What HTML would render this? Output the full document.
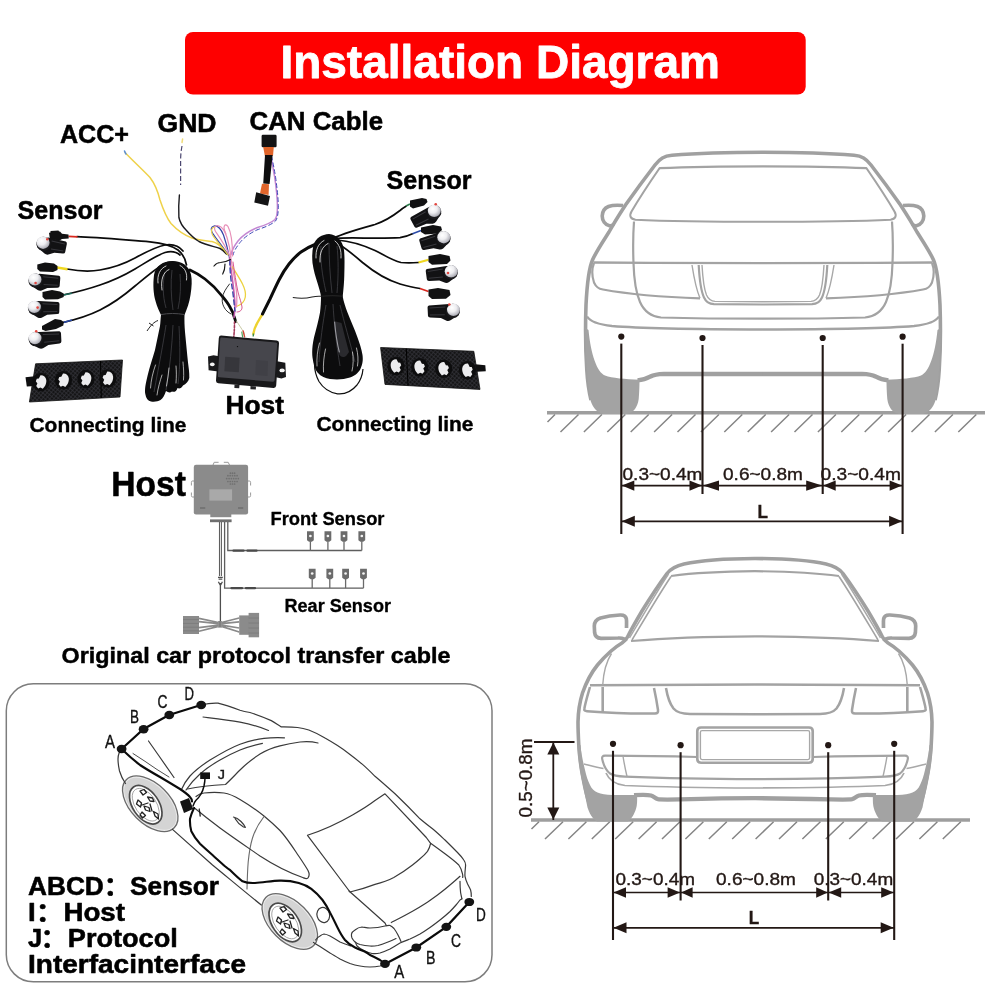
<!DOCTYPE html>
<html lang="en">
<head>
<meta charset="utf-8">
<title>Installation Diagram</title>
<style>
html,body{margin:0;padding:0;background:#fff;}
body{width:1000px;height:1000px;overflow:hidden;position:relative;}
svg{position:absolute;left:0;top:0;display:block;will-change:transform;}
text{font-family:"Liberation Sans","Noto Sans CJK SC",sans-serif;}
.b{font-weight:bold;fill:#000;stroke:#000;stroke-width:0.55px;stroke-linejoin:round;}
.dim{fill:#231815;font-size:16.5px;stroke:#231815;stroke-width:0.35px;}
.car{fill:none;stroke:#a0a0a0;stroke-width:3.6;stroke-linecap:butt;stroke-linejoin:round;}
.car2{fill:none;stroke:#a3a3a3;stroke-width:2.2;stroke-linecap:butt;stroke-linejoin:round;}
.car3{fill:none;stroke:#a8a8a8;stroke-width:1.4;stroke-linecap:butt;stroke-linejoin:round;}
.k{fill:none;stroke:#231815;stroke-width:1.5;}
.kf{fill:#231815;stroke:none;}
.h{fill:none;stroke:#858585;stroke-width:1.5;}
.w{fill:none;stroke:#0b0b0b;stroke-width:1.6;stroke-linecap:round;}
.ln{fill:none;stroke:#3a3a3a;stroke-width:1.2;stroke-linecap:round;stroke-linejoin:round;}
.lb{font-size:15px;fill:#111;}
</style>
</head>
<body>
<svg width="1000" height="1000" viewBox="0 0 1000 1000">
<rect x="0" y="0" width="1000" height="1000" fill="#ffffff"/>

<g id="header">
<rect x="185" y="32" width="620.7" height="62.6" rx="8" ry="8" fill="#fe0000"/>
<text class="b" x="280.4" y="78.2" font-size="46.6" style="fill:#fff;stroke:#fff;stroke-width:0.8px" textLength="439.6" lengthAdjust="spacingAndGlyphs">Installation Diagram</text>
</g>
<g id="photo">
<!-- left sensor wires -->
<g class="w" style="stroke-width:1.7">
<path d="M77,236.7 C95,237.2 120,239.5 150,241.8 C163,243 172,245.5 178,250 C183,254 185.5,259 186.5,265"/>
<path d="M67,269 C80,271.5 92,271.5 100,270 C112,268 124,264 135,258 C145,252.5 155,247 165,245 C173,243.8 179,246 183,251"/>
<path d="M63,295 C77,292 90,288.5 100,285 C112,281 124,275.5 135,269 C146,262.5 156,255.5 165,252.5 C171,250.8 176,251.5 180,255"/>
<path d="M63,322.5 C76,319.5 90,315 100,310 C112,304 124,295.5 135,286 C146,277 156,268.5 163,264.5 C168,262 172,261.5 176,263"/>
</g>
<!-- left coil -->
<path d="M172.5,261 C163,261 155.5,266 154,275 C152.8,285 153.5,294 155.5,301 C157,307 159.5,311.5 161,315 C160.5,319 160.5,322 160,326 C158.5,334 156.5,342 155,350 C152.5,359 149.5,367 147.5,376 C145.5,384 144.5,390 145.3,394 C146,398.5 148,401 151,401.5 C154.5,402 158,401.5 160.5,400 C163,398.5 164.5,395 166,391 C168,392.5 170,393 172,391.5 C174,392.5 176.5,391.5 177.5,388 C179.5,389 181.5,388 183,385.5 C186,384 188.5,381.5 189.3,378 C189.5,372 188.5,367 188,362.5 C187,353 186,342 185,332 C184.5,326 184.3,320 184.5,315 C187,309 189.5,302 190.5,295 C191.8,287 192.2,280 191,274.5 C189,266 182,261 172.5,261 Z" fill="#0c0c0d"/>
<path d="M165,272 C162.5,282 162.5,296 166,308 M172,270 C170.5,282 171,297 173,310 M180,274 C181,285 180.5,298 178,309 M166,325 C163,345 159,365 154,392 M173,325 C172,345 170,368 166,390 M179,326 C180,345 180.5,365 178,384" fill="none" stroke="#3a3a3e" stroke-width="0.9"/>

<path d="M158,283 C157,275 160,268.5 166,266 M162,290 C160.5,280 163,272 169,269.5 M186.5,280 C187.5,273 185,268 180,265.5" fill="none" stroke="#f4f4f4" stroke-width="0.8" stroke-linecap="round"/>
<path d="M150.5,388 C151,380 153,372 155.5,365 M157,395 C158,388 160,381 162,375 M166.5,386 C167.5,380 168.5,374 169,368 M176,383 C176.5,377 176.5,371 176,366 M183.5,380 C184,374 183.5,368 183,362" fill="none" stroke="#e9e9e9" stroke-width="0.7" stroke-linecap="round"/>
<path d="M161,314.6 C168,313.1 177,313.1 184.5,314.6" fill="none" stroke="#4a4a4e" stroke-width="1"/>
<path d="M147,331 C151,325 154,322 158,320.5 M149,323 L153.5,326" fill="none" stroke="#222" stroke-width="1"/>
<!-- cable coil -> host -->
<path d="M190,270 C195.5,272.5 200.5,275.5 205,279 C211.5,284 217,289.5 222,296 C225.5,300 228.5,304 230.5,308 C232.3,311 233.5,314 234,316.5 C234.8,318.5 235.3,320 235.6,321.6" fill="none" stroke="#0b0b0b" stroke-width="2.8" stroke-linecap="round"/>
<!-- ACC yellow wire -->
<path d="M125,152.5 C133,161 142,169 150,177.5 C155,184 158,192 160,200 C163,209 166,217 171,223.5 C177,230 184,235 192,238 C199,240.3 206,240.8 212,241.5 C218,243 222,247 225.5,252.5" fill="none" stroke="#efd24a" stroke-width="1.5" stroke-linecap="round"/>
<path d="M124.5,151 l1.4,3" stroke="#5b8fd8" stroke-width="1.6" stroke-linecap="round" fill="none"/>
<!-- GND wire -->
<path d="M182.6,139 l-0.6,3.5" stroke="#f0dc7a" stroke-width="1.5" stroke-linecap="round" fill="none"/>
<path d="M182,146 C181,151 180.6,156 180.6,161 L180.6,185" fill="none" stroke="#4b4770" stroke-width="1.2" stroke-dasharray="5 2.5"/>
<path d="M179.4,195 C178.7,202 178.5,210 178.9,217.5 C180,223 183,227 186.5,230.5 C190,234.5 194,238.5 199,241.5 C206,245 214,246.5 220,248.5 C223,250 225,252 226.5,254" fill="none" stroke="#1b1b1f" stroke-width="1.4" stroke-linecap="round"/>
<!-- CAN cable -->
<path d="M270.5,155 C272,161 273,168 274.5,176 C276,186 277.3,196 277.4,206 C277.5,212 277,217 275,219.5 C271,223 264,225.5 257.5,227.5 C250,230.5 243,235 238,241 C234.5,245.5 232,250 231,254.5" fill="none" stroke="#c487d2" stroke-width="1.5" stroke-linecap="round"/>
<path d="M271.5,156 C273,163 274.5,170 275.7,178 C277,188 278.3,198 278.3,207 C278.3,213 277.5,218.5 275.5,221 C271,225 264,227.5 258,229.5 C251,232.5 244.5,237 240,242.5 C236.5,247 234,251 233,255" fill="none" stroke="#3e48b8" stroke-width="1" stroke-linecap="round" stroke-dasharray="4 3"/>
<rect x="261.6" y="134.7" width="15" height="12.5" rx="1.3" fill="#131314"/>
<path d="M263.2,147 L273.8,147 L273,155.8 L264.8,155.8 Z" fill="#e0642a"/>
<path d="M265,155 L272.6,155 L269.6,184 L263.2,183.5 Z" fill="#0e0e0f"/>
<path d="M262,183.7 L269,184.2 L268.6,195 L260,193.5 Z" fill="#e2662c"/>
<path d="M256.2,192.3 L270,196 L268,205.8 L254.3,202.5 Z" fill="#141415"/>
<!-- colored loops -->
<g fill="none" stroke-linecap="round" stroke-width="1.2">
<path d="M229,256 C224,248 217,240 212.5,233 C210.5,229.5 211,226.5 214,226 C218,225.5 221,229 223.5,235 C226,242 228,250 229.5,258" stroke="#3343a8"/>
<path d="M230,257 C227,248 220,238 215.5,231.5 C213.5,228 215,225 218.5,225.8 C222,226.5 225,231 227,237.5 C229,244 230.5,251 231,258" stroke="#e78fb8"/>
<path d="M228,255 C223,247.5 216,241 212.5,235 C210.5,231 211.5,227.5 214.5,227" stroke="#e8d048"/>
<path d="M226,234 C222,226.5 225,222.5 228,226.5 C231,232 232.5,244 232.5,256" stroke="#e78fb8"/>
<path d="M229.5,258 C230.5,266 231.5,273 232.5,280 C233.5,288 234.7,297 235,305 C235,310 234.5,314 234,317.5" stroke="#c45fb0" stroke-width="1.6"/>
<path d="M231,259 C232.5,268 234,276 235.5,284 C236.8,292 237.2,300 236.5,307" stroke="#e78fb8" stroke-width="1.3"/>
<path d="M230,260 C229.5,270 231,281 232.5,290 C233.5,297 234,304 235,311" stroke="#3141a6" stroke-width="1.3" stroke-dasharray="5 3"/>
<path d="M232.5,267 C236,273 240,279 242.5,284 C245,289 246,293 245.3,297 C244.5,301.5 241.5,304.5 237.5,306" stroke="#ecd23e" stroke-width="1.3"/>
<path d="M233,262 C234.5,272 236,283 238,292 C239.5,298 241.5,303 242,307 C242.3,310 240,312 237,312" stroke="#d65a90" stroke-width="1"/>
<path d="M214,266 C216,263.5 218,262.5 220.5,262.5 C224,262.3 227.5,261.2 230.5,259.5 M222.7,274 C224.5,271 225,267.5 225,264" stroke="#1a1a1a" stroke-width="1.2"/>
<path d="M229.5,284 C226,288.5 223,293 222.3,298 C221.8,302.5 223,306 225.5,309.5 C227,311.5 229,313 231,314" stroke="#1a1a1a" stroke-width="0.9"/>
<path d="M234.5,322 C234.5,327 234.3,332 233.8,336.5" stroke="#a33a5a" stroke-width="1.6" stroke-dasharray="2 1.5"/>
<path d="M236.5,321 C239,325 242,329 243.7,332.5 C244.3,334 244.5,335.5 244.4,336.5" stroke="#c9c9a5" stroke-width="1"/>
<path d="M243.2,331 L244.6,336.8" stroke="#cf4a3a" stroke-width="1.4"/>
<path d="M241.8,332 L242.6,336.8" stroke="#4aa35a" stroke-width="1.2"/>
</g>
<!-- right cable host -> coil -->
<path d="M253.3,334 C254,329 255.5,326 257.5,322.5 L262.3,314.3" fill="none" stroke="#edd22e" stroke-width="2.4" stroke-linecap="round"/>
<path d="M253.2,336.5 l0.3,-3" stroke="#3a8a4a" stroke-width="1.4" fill="none"/>
<path d="M262.5,314 C265,309 267.5,304 270,299 C273,292.5 276,286 279,280 C282,274 285.5,268.5 289,264 C293,259 297,255 301,252 C306,248.5 311,246 316,244 C320,242.5 324,241 328,240" fill="none" stroke="#0b0b0b" stroke-width="3" stroke-linecap="round"/>
<!-- right coil -->
<path d="M329,234 C322,234.5 315.5,238 313.5,245 C312,251 312,257 312.5,263 C313.5,270 315.5,277 317.5,283 C319,288 320.5,292.5 321,296.5 C321,302 320.7,307 320,312.5 C318.5,321 316,329.5 314,337.5 C312.3,345 311.8,352 312.5,357.5 C313.5,364.5 315,369.5 317.5,372.5 C321,376.5 325.5,378.5 330,379 C337,380 344,379.5 350,377.5 C355.5,375.5 359.5,372 361,367.5 C363,362.5 363,358.5 362.5,355 C361.5,349 359.5,343 357.5,337.5 C354.5,329 350.5,320 347.5,312.5 C345.5,307 343.5,301.5 342.7,296.5 C343.5,289 344.2,282 344.3,275 C344.5,266 344.8,257 344,250 C342.5,240.5 337,234.5 329,234 Z" fill="#0c0c0d"/>
<path d="M321,246 C320,258 322,275 326,292 M329,243 C329,258 330,276 332,293 M337,246 C338.5,258 338.5,276 337,293 M326,305 C323,322 320,342 319,362 M333,304 C334,322 336,342 340,366 M340,305 C344,322 350,342 355,362" fill="none" stroke="#3a3a3e" stroke-width="0.9"/>
<path d="M334,321 C335,332 336.5,344 339,354 C340.5,357.5 344,358 346.5,355.5 L349,352 C346.5,343 344,333 341.5,323 Z" fill="#2a2a2e"/>
<path d="M334.6,322 C335.5,332 337,343 339.3,352" fill="none" stroke="#9a9aa0" stroke-width="1.1" stroke-linecap="round"/>
<path d="M316,258 C315.5,250 318,243.5 324,240.5 M320,262 C319.5,253 322,246.5 328,243.5 M341,258 C341.5,250 339.5,244.5 335,241" fill="none" stroke="#f4f4f4" stroke-width="0.8" stroke-linecap="round"/>
<path d="M317,366 C316.5,358 317.5,350 319.5,343 M323.5,372 C323,364 324,356 325.5,349 M352,371 C353.5,365 353.5,358 352.5,352 M357.5,366 C358.5,360 358,354 356.5,348" fill="none" stroke="#e9e9e9" stroke-width="0.7" stroke-linecap="round"/>
<path d="M314.5,364 C314.5,370 316,376 319,381.5 C323,388 329.5,392.5 337.5,393.8 C345,394.5 352,391 357,385 C360.5,380.5 362.5,375 363,369" fill="none" stroke="#0e0e0e" stroke-width="1.2"/>
<path d="M292.8,297.5 C299,298.5 306,298.5 312,297 C315,296.3 318,296 321,296.3 C328,295.5 336,295.3 343,296.3" fill="none" stroke="#222" stroke-width="1.1"/>
<!-- right sensor wires -->
<g class="w" style="stroke-width:1.7">
<path d="M330,240 C340,234 355,230 375,224.5 C385,221 393,216 400,210.5 C402,208.8 404,207.5 406,206.3"/>
<path d="M333,238.5 C350,237 375,239 400,237.7 C405,237 409,235.5 412.5,233.8"/>
<path d="M337,240 C350,241 363,245 375,250.5 C384,255 392,260.5 401,262.5 C407,263.3 413,263 418.5,262.5"/>
<path d="M340,245 C348,250 355,256 362.5,262.5 C374,272 387,280 400,284 C407,286 413,287.5 420,288.5"/>
</g>
<path d="M406,206 L410,204" stroke="#2a7a4a" stroke-width="1.6" fill="none"/>
<path d="M412.5,233.7 L421,230.5" stroke="#2a4aa8" stroke-width="1.6" fill="none"/>
<path d="M418.5,262.5 L428.5,259.8" stroke="#f0d820" stroke-width="2.2" fill="none"/>
<path d="M420,288.5 L428.5,291.5" stroke="#d8281e" stroke-width="1.8" fill="none"/>
<!-- left sensors: connector color tags -->
<path d="M68.5,236.4 L77.5,236.8" stroke="#d8281e" stroke-width="1.8" fill="none"/>
<path d="M57,267.5 L67.5,269.2" stroke="#f0d820" stroke-width="2.4" fill="none"/>
<path d="M63.5,295 L72,293.3" stroke="#1f6a5a" stroke-width="1.6" fill="none"/>
<path d="M63.5,322.5 L72,320" stroke="#2a4aa8" stroke-width="1.6" fill="none"/>
<!-- connectors -->
<g fill="#111112">
<path d="M49,233 L53,231 L60,231.5 L62,233.8 L68.5,234.5 L68.7,238.5 L62,239 L60,240.2 L50,239.5 Z M50.5,231 L58.5,230.5 L59.5,232.5 L50.5,232.8 Z"/>
<path d="M37.3,264.5 L45,262.5 L54,263.5 L57.5,266 L57.5,270 L53,272 L40,271.5 L37.3,269 Z"/>
<path d="M42.5,292 L52,290 L60,291.5 L63.7,293.5 L63.7,297 L58,299.3 L45,299.5 L42.5,297 Z"/>
<path d="M42,326 L55,319 L61,320 L63.8,322 L63.3,325.5 L56,329 L45.5,331 L42,329.5 Z"/>
<path d="M410,200.5 L422,198 L426.5,199 L427.5,202 L424,205.5 L413,208.5 L410,206.5 Z"/>
<path d="M421,227.5 L433,225 L441,226.5 L442,230 L438,233.5 L425,234.5 L421,232 Z"/>
<path d="M428.5,256 L440,254 L449.5,256 L450.5,260.5 L447,264 L432,264.8 L428.5,262 Z"/>
<path d="M428.5,289.5 L438,288 L449.5,290 L450.5,295 L446,298.8 L432,299 L428.5,296 Z"/>
</g>
<!-- SENSORS_BEGIN -->
<radialGradient id="sv" cx="0.38" cy="0.34" r="0.75"><stop offset="0" stop-color="#ffffff"/><stop offset="0.45" stop-color="#eeeef1"/><stop offset="0.8" stop-color="#b9b9c1"/><stop offset="1" stop-color="#85858d"/></radialGradient>
<g transform="translate(43.1,242.7) rotate(11.5)"><path d="M-3,-3 L4,-6 L22.0,-5.6 Q23.5,-5.2 23.5,-3.5 L23.5,4.6 Q23.5,6.4 21.5,6.6 L13,7.6 L7.5,10.6 Q5.5,11.4 3.5,10.4 L-5,5.5 Z" fill="#121214"/><path d="M8,-3.3 L21.5,-3 M9,4.5 L21.5,4" stroke="#37373c" stroke-width="1" fill="none"/><circle cx="0.6" cy="1.1" r="7.1" fill="#1a1a1d"/></g><ellipse cx="43.1" cy="242.7" rx="6.5" ry="6.2" fill="url(#sv)"/><circle cx="47.3" cy="239.3" r="1.3" fill="#e2463f"/>
<g transform="translate(35.0,279.4) rotate(4.6)"><path d="M-3,-3 L4,-6 L23.6,-5.6 Q25.1,-5.2 25.1,-3.5 L25.1,4.6 Q25.1,6.4 23.1,6.6 L13,7.6 L7.5,10.6 Q5.5,11.4 3.5,10.4 L-5,5.5 Z" fill="#121214"/><path d="M8,-3.3 L23.1,-3 M9,4.5 L23.1,4" stroke="#37373c" stroke-width="1" fill="none"/><circle cx="0.6" cy="1.1" r="7.1" fill="#1a1a1d"/></g><ellipse cx="35.0" cy="279.4" rx="6.5" ry="6.2" fill="url(#sv)"/><circle cx="35.6" cy="283.0" r="1.3" fill="#e2463f"/>
<g transform="translate(34.4,306.9) rotate(1.5)"><path d="M-3,-3 L4,-6 L23.5,-5.6 Q25.0,-5.2 25.0,-3.5 L25.0,4.6 Q25.0,6.4 23.0,6.6 L13,7.6 L7.5,10.6 Q5.5,11.4 3.5,10.4 L-5,5.5 Z" fill="#121214"/><path d="M8,-3.3 L23.0,-3 M9,4.5 L23.0,4" stroke="#37373c" stroke-width="1" fill="none"/><circle cx="0.6" cy="1.1" r="7.1" fill="#1a1a1d"/></g><ellipse cx="34.4" cy="306.9" rx="6.5" ry="6.2" fill="url(#sv)"/><circle cx="37.6" cy="307.6" r="1.3" fill="#e2463f"/>
<g transform="translate(35.0,338.1) rotate(-2.9)"><path d="M-3,-3 L4,-6 L24.7,-5.6 Q26.2,-5.2 26.2,-3.5 L26.2,4.6 Q26.2,6.4 24.2,6.6 L13,7.6 L7.5,10.6 Q5.5,11.4 3.5,10.4 L-5,5.5 Z" fill="#121214"/><path d="M8,-3.3 L24.2,-3 M9,4.5 L24.2,4" stroke="#37373c" stroke-width="1" fill="none"/><circle cx="0.6" cy="1.1" r="7.1" fill="#1a1a1d"/></g><ellipse cx="35.0" cy="338.1" rx="6.5" ry="6.2" fill="url(#sv)"/><circle cx="36.2" cy="331.3" r="1.3" fill="#e2463f"/>
<g transform="translate(434.3,210.8) scale(-1,1) rotate(28.4)"><path d="M-3,-3 L4,-6 L23.5,-5.6 Q25.0,-5.2 25.0,-3.5 L25.0,4.6 Q25.0,6.4 23.0,6.6 L13,7.6 L7.5,10.6 Q5.5,11.4 3.5,10.4 L-5,5.5 Z" fill="#121214"/><path d="M8,-3.3 L23.0,-3 M9,4.5 L23.0,4" stroke="#37373c" stroke-width="1" fill="none"/><circle cx="0.6" cy="1.1" r="7.1" fill="#1a1a1d"/></g><ellipse cx="434.3" cy="210.8" rx="6.5" ry="6.2" fill="url(#sv)"/><circle cx="435.7" cy="204.3" r="1.3" fill="#e2463f"/>
<g transform="translate(443.8,237.2) scale(-1,1) rotate(16.6)"><path d="M-3,-3 L4,-6 L23.0,-5.6 Q24.5,-5.2 24.5,-3.5 L24.5,4.6 Q24.5,6.4 22.5,6.6 L13,7.6 L7.5,10.6 Q5.5,11.4 3.5,10.4 L-5,5.5 Z" fill="#121214"/><path d="M8,-3.3 L22.5,-3 M9,4.5 L22.5,4" stroke="#37373c" stroke-width="1" fill="none"/><circle cx="0.6" cy="1.1" r="7.1" fill="#1a1a1d"/></g><ellipse cx="443.8" cy="237.2" rx="6.5" ry="6.2" fill="url(#sv)"/>
<g transform="translate(451.2,271.3) scale(-1,1) rotate(7.6)"><path d="M-3,-3 L4,-6 L23.7,-5.6 Q25.2,-5.2 25.2,-3.5 L25.2,4.6 Q25.2,6.4 23.2,6.6 L13,7.6 L7.5,10.6 Q5.5,11.4 3.5,10.4 L-5,5.5 Z" fill="#121214"/><path d="M8,-3.3 L23.2,-3 M9,4.5 L23.2,4" stroke="#37373c" stroke-width="1" fill="none"/><circle cx="0.6" cy="1.1" r="7.1" fill="#1a1a1d"/></g><ellipse cx="451.2" cy="271.3" rx="6.5" ry="6.2" fill="url(#sv)"/><circle cx="448.0" cy="273.0" r="1.3" fill="#e2463f"/>
<g transform="translate(453.5,309.8) scale(-1,1) rotate(2.9)"><path d="M-3,-3 L4,-6 L24.3,-5.6 Q25.8,-5.2 25.8,-3.5 L25.8,4.6 Q25.8,6.4 23.8,6.6 L13,7.6 L7.5,10.6 Q5.5,11.4 3.5,10.4 L-5,5.5 Z" fill="#121214"/><path d="M8,-3.3 L23.8,-3 M9,4.5 L23.8,4" stroke="#37373c" stroke-width="1" fill="none"/><circle cx="0.6" cy="1.1" r="7.1" fill="#1a1a1d"/></g><ellipse cx="453.5" cy="309.8" rx="6.5" ry="6.2" fill="url(#sv)"/><circle cx="449.3" cy="304.5" r="1.3" fill="#e2463f"/>
<!-- SENSORS_END -->
<!-- brackets -->
<pattern id="cf" width="3" height="3" patternUnits="userSpaceOnUse" patternTransform="rotate(40)"><rect width="3" height="3" fill="#151516"/><path d="M0,0.5 H3 M0.5,0 V3" stroke="#34343a" stroke-width="0.7"/></pattern>
<path d="M35.6,363.8 L122.5,360 L120,397 L29.4,402 Z" fill="url(#cf)" stroke="#111" stroke-width="0.8"/>
<path d="M25.5,377.2 L34.5,376.3 L35,386 L26.8,386.6 Z" fill="#0f0f10"/>
<path d="M100.5,361 L101.3,398" stroke="#000" stroke-width="1" fill="none"/>
<path d="M380.6,347.5 L473.8,351.3 L480,389.4 L385,384.4 Z" fill="url(#cf)" stroke="#111" stroke-width="0.8"/>
<path d="M475.5,364.3 L485.3,365.2 L485.8,371.3 L476.5,371.8 Z" fill="#0f0f10"/>
<path d="M406.3,348.6 L408,385.6" stroke="#000" stroke-width="1" fill="none"/>
<g transform="translate(41.0,382.0)"><ellipse cx="0" cy="0" rx="8.6" ry="9.2" fill="#0d0d0e"/><path d="M-0.5,-6.8 C2.5,-7 4.8,-5 5.3,-2 C5.6,0.5 4.8,2.8 3.6,4.6 L1.8,6.8 L-0.6,5.6 L-2.8,6.6 L-4.8,4 L-3.6,1.4 L-5.2,-0.8 L-4.2,-3.2 L-2.2,-3.4 Z" fill="#ececee"/></g>
<g transform="translate(63.5,380.2)"><ellipse cx="0" cy="0" rx="8.6" ry="9.2" fill="#0d0d0e"/><path d="M-0.5,-6.8 C2.5,-7 4.8,-5 5.3,-2 C5.6,0.5 4.8,2.8 3.6,4.6 L1.8,6.8 L-0.6,5.6 L-2.8,6.6 L-4.8,4 L-3.6,1.4 L-5.2,-0.8 L-4.2,-3.2 L-2.2,-3.4 Z" fill="#ececee"/></g>
<g transform="translate(86.0,379.0)"><ellipse cx="0" cy="0" rx="8.6" ry="9.2" fill="#0d0d0e"/><path d="M-0.5,-6.8 C2.5,-7 4.8,-5 5.3,-2 C5.6,0.5 4.8,2.8 3.6,4.6 L1.8,6.8 L-0.6,5.6 L-2.8,6.6 L-4.8,4 L-3.6,1.4 L-5.2,-0.8 L-4.2,-3.2 L-2.2,-3.4 Z" fill="#ececee"/></g>
<g transform="translate(107.8,378.4)"><ellipse cx="0" cy="0" rx="8.6" ry="9.2" fill="#0d0d0e"/><path d="M-0.5,-6.8 C2.5,-7 4.8,-5 5.3,-2 C5.6,0.5 4.8,2.8 3.6,4.6 L1.8,6.8 L-0.6,5.6 L-2.8,6.6 L-4.8,4 L-3.6,1.4 L-5.2,-0.8 L-4.2,-3.2 L-2.2,-3.4 Z" fill="#ececee"/></g>
<g transform="translate(396.0,366.0) scale(-1,1)"><ellipse cx="0" cy="0" rx="8.6" ry="9.2" fill="#0d0d0e"/><path d="M-0.5,-6.8 C2.5,-7 4.8,-5 5.3,-2 C5.6,0.5 4.8,2.8 3.6,4.6 L1.8,6.8 L-0.6,5.6 L-2.8,6.6 L-4.8,4 L-3.6,1.4 L-5.2,-0.8 L-4.2,-3.2 L-2.2,-3.4 Z" fill="#ececee"/></g>
<g transform="translate(419.7,367.2) scale(-1,1)"><ellipse cx="0" cy="0" rx="8.6" ry="9.2" fill="#0d0d0e"/><path d="M-0.5,-6.8 C2.5,-7 4.8,-5 5.3,-2 C5.6,0.5 4.8,2.8 3.6,4.6 L1.8,6.8 L-0.6,5.6 L-2.8,6.6 L-4.8,4 L-3.6,1.4 L-5.2,-0.8 L-4.2,-3.2 L-2.2,-3.4 Z" fill="#ececee"/></g>
<g transform="translate(443.7,368.7) scale(-1,1)"><ellipse cx="0" cy="0" rx="8.6" ry="9.2" fill="#0d0d0e"/><path d="M-0.5,-6.8 C2.5,-7 4.8,-5 5.3,-2 C5.6,0.5 4.8,2.8 3.6,4.6 L1.8,6.8 L-0.6,5.6 L-2.8,6.6 L-4.8,4 L-3.6,1.4 L-5.2,-0.8 L-4.2,-3.2 L-2.2,-3.4 Z" fill="#ececee"/></g>
<g transform="translate(467.5,370.3) scale(-1,1)"><ellipse cx="0" cy="0" rx="8.6" ry="9.2" fill="#0d0d0e"/><path d="M-0.5,-6.8 C2.5,-7 4.8,-5 5.3,-2 C5.6,0.5 4.8,2.8 3.6,4.6 L1.8,6.8 L-0.6,5.6 L-2.8,6.6 L-4.8,4 L-3.6,1.4 L-5.2,-0.8 L-4.2,-3.2 L-2.2,-3.4 Z" fill="#ececee"/></g>
<!-- host -->
<path d="M208,356.5 L213.5,355.2 L219,356.3 L218.3,371.5 L208.6,370.3 Z" fill="#19191b"/>
<path d="M277,361.2 L285.3,362.8 L286,377 L281.5,378.4 L276,377.3 Z" fill="#19191b"/>
<path d="M221.2,335.6 L276.8,340.6 Q279.3,341 279,343.4 L276.2,385.6 Q276,388 273.6,387.9 L218.3,383.2 Q215.9,382.9 216,380.5 L218.8,338 Q219,335.5 221.2,335.6 Z" fill="#18181a"/>
<path d="M221.6,337.6 L276,342.5 Q277.3,342.7 277.2,344 L274.6,380.3 Q274.4,381.8 272.9,381.7 L219.2,377.3 Q217.8,377.2 217.9,375.8 L220.2,339 Q220.3,337.5 221.6,337.6 Z" fill="#46464c"/>
<path d="M225.2,356.8 L239.6,357.8 L238.8,372.3 L224.4,371.3 Z" fill="#36363b"/>
<path d="M256,360 L268,361 L267.5,376 L255.3,375 Z" fill="#404046"/>
<path d="M234.5,384.5 L239.5,385 L239.2,388.3 L234.4,388 Z M250.5,386 L256,386.5 L255.8,389.6 L250.4,389.2 Z" fill="#232326"/>
<ellipse cx="212.3" cy="364.4" rx="2.4" ry="1.8" fill="#f4f4f4"/>
<ellipse cx="282.1" cy="370.4" rx="2.7" ry="1.9" fill="#f4f4f4"/>
<circle cx="237.5" cy="346.6" r="0.7" fill="#0a0a0a"/>
</g>
<g id="hostdiag">
<path d="M213,465 L214.2,462.3 H218.6 M223.8,462.3 H228.2 L229.5,465" fill="none" stroke="#9a9a9a" stroke-width="1"/>
<path d="M194,481 H192.4 Q191.4,481 191.4,482.5 V485.5 M191.4,492.5 V495.5 Q191.4,497 192.6,497 H194" fill="none" stroke="#9a9a9a" stroke-width="1"/>
<path d="M248,481 H249.4 Q250.6,481 250.6,482.5 V485.5 M250.6,492.5 V495.5 Q250.6,497 249.4,497 H248" fill="none" stroke="#9a9a9a" stroke-width="1"/>
<rect x="193.8" y="464.7" width="54.3" height="49.8" rx="2.2" fill="#8b8b8b"/>
<rect x="209.4" y="489.3" width="22.7" height="11.3" fill="#a9a9a9"/>
<path d="M230.4,473.2 h0.01 M232.5,473.2 h0.01 M234.6,473.2 h0.01 M227.9,475.7 h0.01 M230.2,475.7 h0.01 M232.5,475.7 h0.01 M234.8,475.7 h0.01 M237.1,475.7 h0.01 M226.7,478.6 h0.01 M229.1,478.6 h0.01 M231.4,478.6 h0.01 M233.7,478.6 h0.01 M236.0,478.6 h0.01 M238.3,478.6 h0.01 M227.9,481.5 h0.01 M230.2,481.5 h0.01 M232.5,481.5 h0.01 M234.8,481.5 h0.01 M237.1,481.5 h0.01 M230.4,484.0 h0.01 M232.5,484.0 h0.01 M234.6,484.0 h0.01" stroke="#707070" stroke-width="1.7" stroke-linecap="round" fill="none"/>
<path d="M200,508 H205.3 M238,508 H243.2" stroke="#6f6f6f" stroke-width="1.3" fill="none"/>
<rect x="210.3" y="514" width="21" height="3.2" fill="#8b8b8b"/>
<rect x="210" y="519.4" width="21.6" height="2.8" fill="#6e6e6e"/>
<path d="M219.5,522 V576 M221.4,522 V576" stroke="#5e5e5e" stroke-width="1.1" fill="none"/>
<path d="M224.6,522 V588.1 H363.5" stroke="#5e5e5e" stroke-width="1.3" fill="none"/>
<path d="M227.8,522 V550.5 H361.8" stroke="#5e5e5e" stroke-width="1.3" fill="none"/>
<path d="M218,577.3 H222.8 M218.6,579.2 H222.3 M218.4,581.8 L220.4,585.5 L222.4,581.8 M220.4,583 V621" stroke="#4e4e4e" stroke-width="1.3" fill="none"/>
<path d="M233.5,550.7 H243.5 M247.5,550.7 H256.5 M231.5,588.2 H242 M246,588.2 H255" stroke="#4a4a4a" stroke-width="2.3" stroke-linecap="round" fill="none"/>
<path d="M310.4,541.2 V550.5" stroke="#6a6a6a" stroke-width="1.3" fill="none"/>
<path d="M307.0,531.2 h6.8 v9 l-2,1.6 h-2.8 l-2,-1.6 Z" fill="#6b6b6b"/>
<circle cx="310.4" cy="536.0" r="1.35" fill="#f4f4f4"/>
<path d="M327.9,541.2 V550.5" stroke="#6a6a6a" stroke-width="1.3" fill="none"/>
<path d="M324.5,531.2 h6.8 v9 l-2,1.6 h-2.8 l-2,-1.6 Z" fill="#6b6b6b"/>
<circle cx="327.9" cy="536.0" r="1.35" fill="#f4f4f4"/>
<path d="M344.0,541.2 V550.5" stroke="#6a6a6a" stroke-width="1.3" fill="none"/>
<path d="M340.6,531.2 h6.8 v9 l-2,1.6 h-2.8 l-2,-1.6 Z" fill="#6b6b6b"/>
<circle cx="344.0" cy="536.0" r="1.35" fill="#f4f4f4"/>
<path d="M361.8,541.2 V550.5" stroke="#6a6a6a" stroke-width="1.3" fill="none"/>
<path d="M358.4,531.2 h6.8 v9 l-2,1.6 h-2.8 l-2,-1.6 Z" fill="#6b6b6b"/>
<circle cx="361.8" cy="536.0" r="1.35" fill="#f4f4f4"/>
<path d="M312.2,578.7 V588.1" stroke="#6a6a6a" stroke-width="1.3" fill="none"/>
<path d="M308.8,568.7 h6.8 v9 l-2,1.6 h-2.8 l-2,-1.6 Z" fill="#6b6b6b"/>
<circle cx="312.2" cy="573.5" r="1.35" fill="#f4f4f4"/>
<path d="M329.8,578.7 V588.1" stroke="#6a6a6a" stroke-width="1.3" fill="none"/>
<path d="M326.4,568.7 h6.8 v9 l-2,1.6 h-2.8 l-2,-1.6 Z" fill="#6b6b6b"/>
<circle cx="329.8" cy="573.5" r="1.35" fill="#f4f4f4"/>
<path d="M345.6,578.7 V588.1" stroke="#6a6a6a" stroke-width="1.3" fill="none"/>
<path d="M342.2,568.7 h6.8 v9 l-2,1.6 h-2.8 l-2,-1.6 Z" fill="#6b6b6b"/>
<circle cx="345.6" cy="573.5" r="1.35" fill="#f4f4f4"/>
<path d="M363.5,578.7 V588.1" stroke="#6a6a6a" stroke-width="1.3" fill="none"/>
<path d="M360.1,568.7 h6.8 v9 l-2,1.6 h-2.8 l-2,-1.6 Z" fill="#6b6b6b"/>
<circle cx="363.5" cy="573.5" r="1.35" fill="#f4f4f4"/>
<rect x="183" y="616" width="16" height="18" fill="#8b8b8b"/>
<path d="M183,619.6 H199 M183,623.4 H199 M183,627.2 H199 M183,630.8 H199" stroke="#7a7a7a" stroke-width="0.8" fill="none"/>
<rect x="239.2" y="615.4" width="9.8" height="19.4" fill="#8b8b8b"/>
<rect x="248.6" y="612.9" width="10.5" height="24.4" fill="#8b8b8b"/>
<path d="M248.6,618 H259 M248.6,623 H259 M248.6,628 H259 M248.6,633 H259" stroke="#7a7a7a" stroke-width="0.8" fill="none"/>
<rect x="218.2" y="621" width="3.6" height="6.6" fill="#808080"/>
<path d="M199,618.3 L218.5,622.5 M199,621.6 L218.5,623.6 M199,627.6 L218.5,625.2 M199,631.3 L218.5,626.4 M221.5,622.5 L239.2,618 M221.5,623.6 L239.2,621.8 M221.5,625.2 L239.2,628 M221.5,626.4 L239.2,632" stroke="#8a8a8a" stroke-width="1.7" fill="none"/>
</g>
<g id="panel">
<rect x="6.3" y="683.8" width="485.7" height="298" rx="27" ry="27" fill="#fff" stroke="#7d7d7d" stroke-width="1.5"/>
<!-- wheels -->
<g transform="translate(150.25,803.75) rotate(45)"><ellipse cx="0" cy="0" rx="33.9" ry="19.7" fill="#ececec" stroke="#6a6a6a" stroke-width="1.3"/><ellipse cx="0" cy="0" rx="32.2" ry="18" fill="#d4d4d4"/></g>
<g transform="translate(145.75,804.75) rotate(55.5)"><ellipse cx="0" cy="0" rx="21.6" ry="13" fill="#fff" stroke="#4a4a4a" stroke-width="1.7"/><ellipse cx="0" cy="0" rx="18.4" ry="10.4" fill="none" stroke="#8a8a8a" stroke-width="0.7"/></g>
<g transform="translate(289.75,921.50) rotate(45)"><ellipse cx="0" cy="0" rx="33.9" ry="19.7" fill="#ececec" stroke="#6a6a6a" stroke-width="1.3"/><ellipse cx="0" cy="0" rx="32.2" ry="18" fill="#d4d4d4"/></g>
<g transform="translate(285.25,922.50) rotate(55.5)"><ellipse cx="0" cy="0" rx="21.6" ry="13" fill="#fff" stroke="#4a4a4a" stroke-width="1.7"/><ellipse cx="0" cy="0" rx="18.4" ry="10.4" fill="none" stroke="#8a8a8a" stroke-width="0.7"/></g>
<!-- hub details -->
<path class="ln" style="stroke:#222;stroke-width:1.3" d="M140,791 l4,-1.5 l2.5,3 l-3.5,2.5 Z M147.5,797 l5,1 l1.5,3.5 l-4,-0.5 Z M138,800 l3.5,3 l-1,4 l-4,-3 Z M144,806 l5,1.5 l1,4 l-4.5,-1.5 Z M153.5,811.5 l4.5,2.5 l0.5,5 l-3.5,-3 Z M142,812 l3.5,3.5 l-3,2.5 l-2.5,-3 Z M148,803 l-6,2 M150,804 l2,7"/>
<path class="ln" style="stroke:#222;stroke-width:1.3" d="M280,908 l4,-1.5 l2.5,3 l-3.5,2.5 Z M287.5,914 l5,1 l1.5,3.5 l-4,-0.5 Z M278,917 l3.5,3 l-1,4 l-4,-3 Z M284,923 l5,1.5 l1,4 l-4.5,-1.5 Z M293.5,928.5 l4.5,2.5 l0.5,5 l-3.5,-3 Z M282,929 l3.5,3.5 l-3,2.5 l-2.5,-3 Z M288,920 l-6,2 M290,921 l2,7"/>
<!-- car body thin lines -->
<path class="ln" d="M201,705 C207,703.5 213,703 218,703.2 C226,705 234,708 240,710.3 C244,711.5 247,712 250,712.5 C258,715 265,717.8 271.3,720.6 C275,722.5 278,725 281.3,726.9 C287,727 292,727 297.5,727.5 C301.5,728 305,728.8 308.8,730 C314.5,732.2 320,735 325,738 C329.5,740.5 333.5,743 337.5,745.6 C342,748.5 346,751.4 350,754.4 C354.5,757.7 358.5,761 362.5,764.4 C367,768.3 371,772.3 375,776.3 C382,782.2 388.5,788 395,793.8 C403.5,802 412,810.5 420,818.8 C424,822.3 428.3,825.6 432.5,828.8 C437,832.5 441,836.3 445,840 C449.3,844.2 453.5,848.4 457.5,852.5 C460,855 462.2,857.5 463.8,860 C465,861.7 465.6,863.3 465.6,865 C465.5,868.7 464.6,872.5 465,876.3 C465.5,879 466.5,881.5 467.5,883.8 C468.6,886 469.8,888 470.6,890 C471.2,892 471.3,894 471.3,896.5"/>
<path class="ln" d="M203,717 C215,718.5 228,720 240,722.2 C250,724 260,727 268.5,730.5"/>
<path class="ln" d="M121.6,749 C119,752 118,755 118,759 C118,763 118.6,767 119.5,771 C121,776 123,780 125.5,783.5"/>
<path class="ln" d="M148.5,741 C157,753 166,766 174,777.5"/>
<path class="ln" style="stroke-width:0.9" d="M133,753.5 C141,758.5 149,764 157,769.5 C161,772 165,774.5 169,777"/>
<path class="ln" d="M181.5,789.5 C183.5,784.5 186.5,780 190,776 C196,769.5 203,764.5 210,760 C219,754.5 230,748 240,744.2 C248,741.2 256,739.3 264,738.3 C270,737.7 278,737.6 284.5,737.8"/>
<path class="ln" d="M186,790 C190,784 195,778.5 200,774 C206,768.5 213,764 220,760 C227,756 234,752.5 240,750 C247,747.2 255,745 262.5,743.3"/>
<path class="ln" d="M187.5,789 C200,786.5 213,785.3 225.5,784.5 C231,779.5 235.5,774.5 240,770 C246,764 253,758.5 260,754 C266,750.3 273,747.5 280,745.8 C287,744 294,742.8 300,742 C306,741.3 312,741.5 318,743"/>
<path class="ln" d="M196,796.5 C198.5,794.5 201,793.3 204,793 C211,792.3 218,792.3 224,793 C229.5,793.8 235,796.5 240,799.5 C248.5,804.5 257,810.5 264,816 C270,821 275.5,826 280,830.5 C286,837 291,844.5 296,852 C301,859.5 305.5,866 308,870.5 C309.5,873.5 309.5,876 308,877.8 C307,878.8 305.5,878.7 304,878"/>
<path class="ln" style="stroke:#6a6a6a;stroke-width:1.1" d="M264,816.5 C259,823 255,830 252.5,838 C250,846 249,854 248.2,862 C247.6,869 247.3,877 247,889"/>
<path class="ln" d="M233.5,817 C236,817.5 239,819.5 241,821.5 C243,823.5 244.5,825.5 245.3,827.3 M235,818.5 C237,822 240,825 243.5,827 L245.3,827.3"/>
<path class="ln" d="M194.5,808 C203,815 212,822 220,828 C233,837.5 247,847 260,856 C273,864.5 288,872.5 304,878"/>
<path class="ln" d="M172.5,829.4 C186,841.5 199.5,853.5 212.5,865 C229,878.5 245,892 261.3,905"/>
<path class="ln" d="M307.5,835.3 C322,830.5 337,824 352.5,815 C360.5,810.5 368,806 375,800.6 L385,793.8 L426.3,837.5 L430.6,843.3 C430,846.3 429,849 427.5,851.3 C425.3,854 422.8,856.4 420,858.8 C417.6,861 415.2,863 412.5,865 C406.5,869.7 400.3,873.8 393.8,877.5 C388,880.5 381.5,882.7 375,884.4 C367,887.5 358.5,890 350,892 Z"/>
<path class="ln" d="M349,891 C361,901.5 373,912.2 385,923 L386.3,925.5"/>
<path class="ln" d="M460,876.3 C456.8,879.3 453.5,882.2 450,885 C446,888.5 441.8,891.8 437.5,895 C433.4,898 429.3,901 425,903.8 C421,906.4 416.8,908.9 412.5,911.3 C408.4,913.6 404.2,915.9 400,918 C397,919.6 394.2,921 391.3,922.5"/>
<path class="ln" d="M430.6,843.3 C435.5,846.8 440.3,850.3 445,853.8 C450,857.5 454.5,861 458.8,865 C460.6,867.5 461.8,870.5 462.5,873.8 C462.8,875 462.9,876.3 462.7,877.5"/>
<path class="ln" d="M460,881.3 C460,885 460.2,889 460.6,892.5 C461,894.8 461.5,896.8 461.9,898.8"/>
<path class="ln" d="M385,926 C380,927.3 375,927.9 370,928 C367,928 364.5,927.3 362,927 C359.3,927.2 357,928.3 355,930 C353,931.2 351.8,932.5 351.5,934 C351.3,935.5 351.5,936.8 352,938 C352.8,939.6 353.8,940.9 355,942 C356.5,943.2 358.2,944 360,944.5 C363.3,945.3 366.7,945.8 370,946 C372.7,946.1 375.4,945.9 378,945.5 C381.4,944.6 384.7,943.4 388,942 C390.7,940.9 393.4,939.7 396,938.5 M385,926 C386.7,925.6 388.4,925.4 390,925.5 C391.5,926.3 392.8,927.3 394,928.5 C395.5,930.5 396.8,932.7 398,935 C399.1,937.1 400.1,939.3 401,941.5"/>
<path class="ln" d="M355.5,942 C355.8,943.5 356.3,944.8 357,946 C359.3,948.3 362,950 365,951 C367.3,952.2 369.6,953 372,953.5 C374.7,953.9 377.4,953.7 380,953 C383.4,951.9 386.7,950.6 390,949 C393.4,947.1 396.7,945.1 400,943 C403.3,941.6 406.7,940.3 410,939 C413.4,937.5 416.7,935.8 420,934 C423.4,932 426.7,929.8 430,927.5 C433.4,925.1 436.7,922.6 440,920 C443.5,917.3 446.8,914.5 450,911.5 C452.1,909.4 454.1,907.2 456,905 C457.4,903.4 458.7,901.7 460,900 C460.7,899.6 461.3,899.2 461.9,898.8"/>
<path class="ln" d="M315.5,940 C317,938 318.5,936.8 320,936 C321.3,935 322.6,934.2 324,934 C326,934.2 328,935 330,936 C333.4,937.9 336.7,939.9 340,942 C342.7,943.2 345.4,944.3 348,945 L350.5,946"/>
<path class="ln" d="M313.5,942.5 C315.7,943.8 317.8,945.1 320,946.5 C323.4,948.6 326.7,950.8 330,953 C333.4,955 336.7,957 340,959 C343.3,960.7 346.6,962.2 350,963.5 C353.3,964.6 356.6,965.4 360,966 C363.3,966.6 366.7,966.9 370,967 C373.4,967 376.7,966.7 380,966 L384,964.6"/>
<ellipse class="ln" cx="323.3" cy="915" rx="6.3" ry="7.6" transform="rotate(-15 323.3 915)"/>
<path class="ln" d="M375,777.5 C360,781 345,786 331,792 C322,796 313,800.5 306,805" style="stroke:none"/>
<!-- wires -->
<path class="w" style="stroke-width:2.2" d="M121.6,749 L143.6,729 L169,715 L201,705"/>
<path class="w" style="stroke-width:2.1" d="M121.6,749 C127.5,754.7 133.5,760 140,765 C146.5,769.3 153.3,773.2 160,777 C166.8,781 173.5,785 180,789 C183.8,791.5 187.3,794 190,797 C191.3,798.3 192,799.7 192,801.5"/>
<path class="w" style="stroke-width:1.5" d="M205,778 C205,781 204.5,783.5 204,786 C203.3,789 202.5,791.8 201,794 C199.6,796.5 198,798.5 196,800.2 C194.8,801.5 193.8,803.5 193,806"/>
<path class="w" style="stroke-width:2.1" d="M194,808 C192.3,811.5 191,815 190,818.8 C189.8,823 190.2,827.2 191.3,831.3 C193.5,835.8 196.5,840 200,843.8 C204,847.6 208.2,851.3 212.5,855 C216.7,858.8 220.9,862.5 225,866.3 C227,868 228.5,869.2 230,870 C234,874 238,878 242.5,881.3 C246,882.8 250.5,883.2 255,883 C263.5,882.5 272,880.8 280,880.6 C286.5,880.5 293,881.3 298.8,883 C303.5,884.3 307.7,886.2 311.3,888.8 C315.5,892 319.3,895.8 322.5,900 C325.3,903.8 327.8,908 330,912.5 C332.7,917.5 335,922.5 337.5,927.5 C339.7,932 342,936.3 345,940 C347.8,943.2 351.2,945.7 355,947.5 C358.3,949 361.6,950.3 365,951.7 C367,952.6 368.5,953.8 370,955 C373.4,956.5 376.7,958.2 380,960 C381.7,961.2 383.4,962.6 385,964"/>
<path class="w" style="stroke-width:2.2" d="M385,964 L416.3,947.5 L446.3,926.8 L469.3,902"/>
<g fill="#141414">
<ellipse cx="121.6" cy="749" rx="4.9" ry="4.2"/><ellipse cx="143.6" cy="729.2" rx="4.9" ry="4.2"/><ellipse cx="169.3" cy="715" rx="4.9" ry="4.2"/><ellipse cx="201.2" cy="705" rx="4.9" ry="4.2"/>
<ellipse cx="385" cy="963.8" rx="4.9" ry="4.1"/><ellipse cx="416.3" cy="947.5" rx="4.9" ry="4.1"/><ellipse cx="446.3" cy="926.8" rx="4.9" ry="4.1"/><ellipse cx="469.3" cy="902" rx="4.9" ry="4.1"/>
<path d="M180,801.6 L189,798 L193.2,809 L184,813 Z"/>
<rect x="200.2" y="772.4" width="9.8" height="6.6"/>
</g>
<!-- letters -->
<g class="lb" stroke="#111" stroke-width="0.35">
<text x="105" y="747.5" textLength="10" lengthAdjust="spacingAndGlyphs" font-size="19">A</text>
<text x="130" y="723.2" textLength="9" lengthAdjust="spacingAndGlyphs" font-size="19">B</text>
<text x="157.5" y="708.2" textLength="10" lengthAdjust="spacingAndGlyphs" font-size="19">C</text>
<text x="184.5" y="699.6" textLength="9.5" lengthAdjust="spacingAndGlyphs" font-size="19">D</text>
<text x="217.8" y="778.6" textLength="7.2" lengthAdjust="spacingAndGlyphs" font-size="12.5">J</text>
<text x="198.3" y="816.5" textLength="2.6" lengthAdjust="spacingAndGlyphs" font-size="11" transform="rotate(-8 199.5 812)">I</text>
<text x="394.2" y="977.6" textLength="10" lengthAdjust="spacingAndGlyphs" font-size="19">A</text>
<text x="426" y="963.8" textLength="9.5" lengthAdjust="spacingAndGlyphs" font-size="19">B</text>
<text x="451" y="947.2" textLength="10" lengthAdjust="spacingAndGlyphs" font-size="19">C</text>
<text x="476" y="921.2" textLength="9.8" lengthAdjust="spacingAndGlyphs" font-size="19">D</text>
</g>
</g>
<g id="rearcar">
<path d="M547,412.8 H985" stroke="#9e9e9e" stroke-width="3.6" fill="none"/>
<path class="h" d="M555.0,414.5 L547.5,422.0 M578.5,414.5 L560.5,432.0 M601.9,414.5 L583.9,432.0 M625.3,414.5 L607.3,432.0 M648.7,414.5 L630.7,432.0 M672.1,414.5 L654.1,432.0 M695.5,414.5 L677.5,432.0 M718.9,414.5 L700.9,432.0 M742.3,414.5 L724.3,432.0 M765.7,414.5 L747.7,432.0 M789.1,414.5 L771.1,432.0 M812.5,414.5 L794.5,432.0 M835.9,414.5 L817.9,432.0 M859.3,414.5 L841.3,432.0 M882.7,414.5 L864.7,432.0 M906.1,414.5 L888.1,432.0 M929.5,414.5 L911.5,432.0 M952.9,414.5 L934.9,432.0 M976.3,414.5 L958.3,432.0"/>
<g>
<path class="car" d="M763,152.3 C735,152.3 700,153 672,155.3 C664,156 660,158.5 655,165 C645,178 634,193 625.5,205 C619,215 614,223 609,232 C602,243 596,252 592.5,260 C589,268 587,285 586,305 C585.3,325 585.5,350 586.8,370 C587.5,382 589,392 591,400"/>
<path class="car2" d="M763,166.3 C730,166.3 690,166.8 659.5,168.2"/>
<path class="car2" style="stroke-width:2.07" d="M660,167.5 C650,182 640,197 631.5,211.5 C629,216 630.5,219 635.5,219.7 C670,221.3 720,221.7 763,221.7"/>
<path class="car2" d="M634,221.5 C633,235 633,250 633.5,263 C634,280 636,293 640,302 C644,311 651,316.5 661,317.5 C690,318.3 730,318.7 763,318.7"/>
<path class="car2" style="stroke-width:2.30" d="M593.5,262.5 C650,263 710,263.2 763,263.2"/>
<path class="car2" d="M594,263 C592,268 591.5,275 594,282.5 C596,287 598,288.5 603,289.5 C625,293.5 660,297 700,298.3"/>
<path class="car3" d="M692,265 C694,278 696.5,290 700,298.3"/>
<path class="car2" d="M698.7,265 C699.5,280 701,291 704,297.5 C706,302 709,304 714,304.2 L763,304.5"/>
<path class="car3" d="M702,265 C702.8,279 704,289 706.5,295 C708.5,299.5 711,301.2 715,301.4 L763,301.7"/>
<path class="car2" style="stroke-width:2.42" d="M587,316.5 C590,321.5 598,324.5 612,326 C640,328.3 700,329.3 763,329.5"/>
<path class="car" style="stroke-width:4.32" d="M637.5,380.3 C645,379.8 647,378.5 650.5,376.5 C654,374.5 658,374 664,373.8 L763,374"/>
<path d="M585.3,328 C585.5,350 587,380 590,398 C591.5,406 596,412 603,414 L627,414 C634,412.5 637.5,407 638.7,399 C639.3,392 639.5,385 639.5,379.7 C625,379.3 612,378 605,375.5 C597,372 591,355 588.5,330 Z" fill="#a3a3a3"/>
<path class="car" d="M623,205.5 C618,205 612,205.2 608.5,206.5 C604.5,208.2 602.3,212 602.2,216 C602.2,220.5 605,224.8 609.5,225.8 C611,226 612.5,225.5 613.5,224.5"/>
</g>
<g transform="translate(1526.0,0) scale(-1,1)">
<path class="car" d="M763,152.3 C735,152.3 700,153 672,155.3 C664,156 660,158.5 655,165 C645,178 634,193 625.5,205 C619,215 614,223 609,232 C602,243 596,252 592.5,260 C589,268 587,285 586,305 C585.3,325 585.5,350 586.8,370 C587.5,382 589,392 591,400"/>
<path class="car2" d="M763,166.3 C730,166.3 690,166.8 659.5,168.2"/>
<path class="car2" style="stroke-width:2.07" d="M660,167.5 C650,182 640,197 631.5,211.5 C629,216 630.5,219 635.5,219.7 C670,221.3 720,221.7 763,221.7"/>
<path class="car2" d="M634,221.5 C633,235 633,250 633.5,263 C634,280 636,293 640,302 C644,311 651,316.5 661,317.5 C690,318.3 730,318.7 763,318.7"/>
<path class="car2" style="stroke-width:2.30" d="M593.5,262.5 C650,263 710,263.2 763,263.2"/>
<path class="car2" d="M594,263 C592,268 591.5,275 594,282.5 C596,287 598,288.5 603,289.5 C625,293.5 660,297 700,298.3"/>
<path class="car3" d="M692,265 C694,278 696.5,290 700,298.3"/>
<path class="car2" d="M698.7,265 C699.5,280 701,291 704,297.5 C706,302 709,304 714,304.2 L763,304.5"/>
<path class="car3" d="M702,265 C702.8,279 704,289 706.5,295 C708.5,299.5 711,301.2 715,301.4 L763,301.7"/>
<path class="car2" style="stroke-width:2.42" d="M587,316.5 C590,321.5 598,324.5 612,326 C640,328.3 700,329.3 763,329.5"/>
<path class="car" style="stroke-width:4.32" d="M637.5,380.3 C645,379.8 647,378.5 650.5,376.5 C654,374.5 658,374 664,373.8 L763,374"/>
<path d="M585.3,328 C585.5,350 587,380 590,398 C591.5,406 596,412 603,414 L627,414 C634,412.5 637.5,407 638.7,399 C639.3,392 639.5,385 639.5,379.7 C625,379.3 612,378 605,375.5 C597,372 591,355 588.5,330 Z" fill="#a3a3a3"/>
<path class="car" d="M623,205.5 C618,205 612,205.2 608.5,206.5 C604.5,208.2 602.3,212 602.2,216 C602.2,220.5 605,224.8 609.5,225.8 C611,226 612.5,225.5 613.5,224.5"/>
</g>
<circle class="kf" cx="621.3" cy="336.6" r="3.1"/>
<path class="k" style="stroke-width:2.1" d="M621.3,343.6 V534.0"/>
<circle class="kf" cx="702.5" cy="338.0" r="3.1"/>
<path class="k" style="stroke-width:2.1" d="M702.5,345.0 V494.0"/>
<circle class="kf" cx="822.7" cy="338.0" r="3.1"/>
<path class="k" style="stroke-width:2.1" d="M822.7,345.0 V494.0"/>
<circle class="kf" cx="902.6" cy="336.7" r="3.1"/>
<path class="k" style="stroke-width:2.1" d="M902.6,343.7 V534.0"/>
<path class="k" style="stroke-width:1.7" d="M621.3,485.6 H902.6"/>
<path class="k" style="stroke-width:1.7" d="M621.3,521.3 H902.6"/>
<path class="kf" d="M621.8,485.6 L634.3,480.4 L634.3,490.8 Z"/>
<path class="kf" d="M702.0,485.6 L689.5,480.4 L689.5,490.8 Z"/>
<path class="kf" d="M703.0,485.6 L719.0,480.4 L719.0,490.8 Z"/>
<path class="kf" d="M822.2,485.6 L806.2,480.4 L806.2,490.8 Z"/>
<path class="kf" d="M823.2,485.6 L835.7,480.4 L835.7,490.8 Z"/>
<path class="kf" d="M902.1,485.6 L889.6,480.4 L889.6,490.8 Z"/>
<path class="kf" d="M621.8,521.3 L634.8,515.8 L634.8,526.8 Z"/>
<path class="kf" d="M902.1,521.3 L889.1,515.8 L889.1,526.8 Z"/>
<text class="dim" x="622.5" y="480.0" textLength="80.0" lengthAdjust="spacingAndGlyphs">0.3~0.4m</text>
<text class="dim" x="723.0" y="480.0" textLength="80.0" lengthAdjust="spacingAndGlyphs">0.6~0.8m</text>
<text class="dim" x="820.5" y="480.0" textLength="80.5" lengthAdjust="spacingAndGlyphs">0.3~0.4m</text>
<text class="dim" x="757.5" y="517.6" style="font-weight:bold;font-size:18.5px" textLength="10.5" lengthAdjust="spacingAndGlyphs">L</text>
</g>
<g id="frontcar">
<path d="M531,820 H970" stroke="#9e9e9e" stroke-width="3.6" fill="none"/>
<path class="h" d="M539.0,821.7 L531.5,829.0 M563.0,821.7 L545.0,839.0 M586.4,821.7 L568.4,839.0 M609.8,821.7 L591.8,839.0 M633.2,821.7 L615.2,839.0 M656.6,821.7 L638.6,839.0 M680.0,821.7 L662.0,839.0 M703.4,821.7 L685.4,839.0 M726.8,821.7 L708.8,839.0 M750.2,821.7 L732.2,839.0 M773.6,821.7 L755.6,839.0 M797.0,821.7 L779.0,839.0 M820.4,821.7 L802.4,839.0 M843.8,821.7 L825.8,839.0 M867.2,821.7 L849.2,839.0 M890.6,821.7 L872.6,839.0 M914.0,821.7 L896.0,839.0 M937.4,821.7 L919.4,839.0 M960.8,821.7 L942.8,839.0"/>
<g>
<path class="car" d="M755,558.5 C730,558.6 700,560.5 684,564 C676,565.8 671,568.5 667,573.5 C660,583 650,598 642,611 C637,619.5 632,628 627.5,637 C626,640 625,641 622,643 C615,647 606,655 597.5,665 C591,673 586,683 582.5,693 C580,701 578.2,711 578,722 C578,730 578.4,738 578.8,745 C579.5,757 581,768 583,778 C584.5,786 586.5,796 590,806"/>
<path class="car2" style="stroke-width:1.61" d="M671,576.5 C658,596 644,620 632,640"/>
<path class="car3" d="M668.5,574 C656,593 642,617 629.5,638"/>
<path class="car2" style="stroke-width:2.18" d="M671,576 C690,573.5 720,571.5 755,571.2"/>
<path class="car2" style="stroke-width:2.18" d="M631,641 C660,638.5 710,636.5 755,636.3"/>
<path class="car" style="stroke-width:3.67" d="M626.5,628 C626.5,624 626.8,621 626.3,618.5 C625.5,615.5 623,614.8 620,615 C612,615.5 606,616.5 600.5,618 C596,619.5 594.3,622 594.3,626 L594.6,632.5 C595,636.5 597,638.2 601,638.3 L618,638 C622,637.8 625,638.5 625.8,641"/>
<path class="car2" style="stroke-width:2.42" d="M590,685.3 C650,685 700,684.6 755,684.5"/>
<path class="car3" d="M611.5,653.5 C606,662 603.5,672 602.7,685"/>
<path class="car2" style="stroke-width:2.53" d="M590,687 C588,694 585.5,702 584.3,709 C584,710.5 585,711 587,711.2 C610,713 640,713.8 655,713.5 C657.5,713.4 658.3,712.3 658,710 C657,703 655.5,695 654,688"/>
<path class="car2" style="stroke-width:2.64" d="M602.7,687 L602.7,712"/>
<path class="car2" style="stroke-width:2.53" d="M666,688 C667.5,697 670,704 673.5,708.5 C677,712.5 681,713.8 690,714 L755,714.3"/>
<path class="car2" style="stroke-width:2.64" d="M755,727.5 L701,727.5 C698.5,727.5 697.3,728.8 697.3,731 L697.3,759 C697.3,761.5 698.5,762.7 701,762.7 L755,762.7"/>
<path class="car3" style="stroke-width:1.38" d="M755,730.6 L702,730.6 C700.8,730.6 700.4,731.2 700.4,732.4 L700.4,757.8 C700.4,759 700.8,759.6 702,759.6 L755,759.6"/>
<path class="car2" style="stroke-width:2.18" d="M697,757 C670,756.3 630,755.8 605,755.7 C602.5,755.7 601.8,757 602.2,759 C603.5,765 606,770.5 610,773.5 C613,775.5 618,776.3 625,776.6 C660,778 710,779 755,779.2"/>
<path class="car3" d="M623,756 C624,763 625.5,770 627,776.5"/>
<path class="car3" d="M584,764 C590,765.5 597,767.5 603.5,768.5"/>
<path class="car3" style="stroke-width:1.72" d="M606,773 C609,780 615,784.5 625,785.5 C660,787 710,787.8 755,788"/>
<path class="car" style="stroke-width:4.32" d="M634,795.2 C642,794.8 648,794.8 651,795.5 C654,796.5 655,798.5 658,799.2 C661,799.8 670,799.6 680,799.4 C705,798.8 730,798.3 755,798.2"/>
<path d="M577.2,745 C578,758 580,772 582.5,783 C584.3,792 586.3,801 587.5,807.5 C589,812 590.5,815 592.5,817.5 C594,819.5 595.5,820.5 597,821.5 L628,821.5 C632.5,818 635.5,812 636.7,806 C637.2,802.5 637.3,799 637,795 C628,795 620,795 612.5,795 C606,794.8 601,794 597.5,792.5 C594,791 591.5,788.5 590,785 C587.8,780.5 586.2,775.5 585,770 C583,762 581.3,753 580.4,745 Z" fill="#a3a3a3"/>
</g>
<g transform="translate(1510.0,0) scale(-1,1)">
<path class="car" d="M755,558.5 C730,558.6 700,560.5 684,564 C676,565.8 671,568.5 667,573.5 C660,583 650,598 642,611 C637,619.5 632,628 627.5,637 C626,640 625,641 622,643 C615,647 606,655 597.5,665 C591,673 586,683 582.5,693 C580,701 578.2,711 578,722 C578,730 578.4,738 578.8,745 C579.5,757 581,768 583,778 C584.5,786 586.5,796 590,806"/>
<path class="car2" style="stroke-width:1.61" d="M671,576.5 C658,596 644,620 632,640"/>
<path class="car3" d="M668.5,574 C656,593 642,617 629.5,638"/>
<path class="car2" style="stroke-width:2.18" d="M671,576 C690,573.5 720,571.5 755,571.2"/>
<path class="car2" style="stroke-width:2.18" d="M631,641 C660,638.5 710,636.5 755,636.3"/>
<path class="car" style="stroke-width:3.67" d="M626.5,628 C626.5,624 626.8,621 626.3,618.5 C625.5,615.5 623,614.8 620,615 C612,615.5 606,616.5 600.5,618 C596,619.5 594.3,622 594.3,626 L594.6,632.5 C595,636.5 597,638.2 601,638.3 L618,638 C622,637.8 625,638.5 625.8,641"/>
<path class="car2" style="stroke-width:2.42" d="M590,685.3 C650,685 700,684.6 755,684.5"/>
<path class="car3" d="M611.5,653.5 C606,662 603.5,672 602.7,685"/>
<path class="car2" style="stroke-width:2.53" d="M590,687 C588,694 585.5,702 584.3,709 C584,710.5 585,711 587,711.2 C610,713 640,713.8 655,713.5 C657.5,713.4 658.3,712.3 658,710 C657,703 655.5,695 654,688"/>
<path class="car2" style="stroke-width:2.64" d="M602.7,687 L602.7,712"/>
<path class="car2" style="stroke-width:2.53" d="M666,688 C667.5,697 670,704 673.5,708.5 C677,712.5 681,713.8 690,714 L755,714.3"/>
<path class="car2" style="stroke-width:2.64" d="M755,727.5 L701,727.5 C698.5,727.5 697.3,728.8 697.3,731 L697.3,759 C697.3,761.5 698.5,762.7 701,762.7 L755,762.7"/>
<path class="car3" style="stroke-width:1.38" d="M755,730.6 L702,730.6 C700.8,730.6 700.4,731.2 700.4,732.4 L700.4,757.8 C700.4,759 700.8,759.6 702,759.6 L755,759.6"/>
<path class="car2" style="stroke-width:2.18" d="M697,757 C670,756.3 630,755.8 605,755.7 C602.5,755.7 601.8,757 602.2,759 C603.5,765 606,770.5 610,773.5 C613,775.5 618,776.3 625,776.6 C660,778 710,779 755,779.2"/>
<path class="car3" d="M623,756 C624,763 625.5,770 627,776.5"/>
<path class="car3" d="M584,764 C590,765.5 597,767.5 603.5,768.5"/>
<path class="car3" style="stroke-width:1.72" d="M606,773 C609,780 615,784.5 625,785.5 C660,787 710,787.8 755,788"/>
<path class="car" style="stroke-width:4.32" d="M634,795.2 C642,794.8 648,794.8 651,795.5 C654,796.5 655,798.5 658,799.2 C661,799.8 670,799.6 680,799.4 C705,798.8 730,798.3 755,798.2"/>
<path d="M577.2,745 C578,758 580,772 582.5,783 C584.3,792 586.3,801 587.5,807.5 C589,812 590.5,815 592.5,817.5 C594,819.5 595.5,820.5 597,821.5 L628,821.5 C632.5,818 635.5,812 636.7,806 C637.2,802.5 637.3,799 637,795 C628,795 620,795 612.5,795 C606,794.8 601,794 597.5,792.5 C594,791 591.5,788.5 590,785 C587.8,780.5 586.2,775.5 585,770 C583,762 581.3,753 580.4,745 Z" fill="#a3a3a3"/>
</g>
<circle class="kf" cx="613.0" cy="743.8" r="3.1"/>
<path class="k" style="stroke-width:2.1" d="M613.0,750.8 V940.0"/>
<circle class="kf" cx="680.6" cy="745.2" r="3.1"/>
<path class="k" style="stroke-width:2.1" d="M680.6,752.2 V900.5"/>
<circle class="kf" cx="828.2" cy="745.2" r="3.1"/>
<path class="k" style="stroke-width:2.1" d="M828.2,752.2 V900.5"/>
<circle class="kf" cx="894.2" cy="743.8" r="3.1"/>
<path class="k" style="stroke-width:2.1" d="M894.2,750.8 V940.0"/>
<path class="k" style="stroke-width:1.7" d="M613.0,892.5 H894.2"/>
<path class="k" style="stroke-width:1.7" d="M613.0,927.8 H894.2"/>
<path class="kf" d="M613.5,892.5 L626.0,887.3 L626.0,897.7 Z"/>
<path class="kf" d="M680.1,892.5 L667.6,887.3 L667.6,897.7 Z"/>
<path class="kf" d="M681.1,892.5 L692.6,887.3 L692.6,897.7 Z"/>
<path class="kf" d="M827.7,892.5 L816.2,887.3 L816.2,897.7 Z"/>
<path class="kf" d="M828.7,892.5 L841.2,887.3 L841.2,897.7 Z"/>
<path class="kf" d="M893.7,892.5 L881.2,887.3 L881.2,897.7 Z"/>
<path class="kf" d="M613.5,927.8 L626.5,922.3 L626.5,933.3 Z"/>
<path class="kf" d="M893.7,927.8 L880.7,922.3 L880.7,933.3 Z"/>
<text class="dim" x="615.5" y="885.0" textLength="79.5" lengthAdjust="spacingAndGlyphs">0.3~0.4m</text>
<text class="dim" x="716.0" y="885.0" textLength="80.0" lengthAdjust="spacingAndGlyphs">0.6~0.8m</text>
<text class="dim" x="813.7" y="885.0" textLength="79.5" lengthAdjust="spacingAndGlyphs">0.3~0.4m</text>
<text class="dim" x="748.7" y="923.8" style="font-weight:bold;font-size:18.5px" textLength="10.5" lengthAdjust="spacingAndGlyphs">L</text>
<path class="k" style="stroke-width:2" d="M534,742 H574.5"/><path class="k" style="stroke-width:1.8" d="M553.3,742 V820"/>
<path class="kf" d="M553.3,742.5 L547.3,754.5 L559.3,754.5 Z"/>
<path class="kf" d="M553.3,819.5 L547.3,807.5 L559.3,807.5 Z"/>
<text class="dim" transform="translate(532,817.5) rotate(-90)" x="0" y="0" style="font-size:18px" textLength="79" lengthAdjust="spacingAndGlyphs">0.5~0.8m</text>
</g>
<g id="labels">
<text class="b" x="60" y="143" font-size="26.5" textLength="69" lengthAdjust="spacingAndGlyphs">ACC+</text>
<text class="b" x="157.5" y="131.8" font-size="26" textLength="59" lengthAdjust="spacingAndGlyphs">GND</text>
<text class="b" x="249.5" y="130" font-size="26" textLength="133.5" lengthAdjust="spacingAndGlyphs">CAN Cable</text>
<text class="b" x="17.5" y="219.3" font-size="26.5" textLength="85" lengthAdjust="spacingAndGlyphs">Sensor</text>
<text class="b" x="386.5" y="189" font-size="26.5" textLength="85" lengthAdjust="spacingAndGlyphs">Sensor</text>
<text class="b" x="225.5" y="414" font-size="26" textLength="58.5" lengthAdjust="spacingAndGlyphs">Host</text>
<text class="b" x="29.5" y="432" font-size="21" style="stroke-width:0.4px" textLength="157" lengthAdjust="spacingAndGlyphs">Connecting line</text>
<text class="b" x="316.5" y="430.5" font-size="21" style="stroke-width:0.4px" textLength="157" lengthAdjust="spacingAndGlyphs">Connecting line</text>
<text class="b" x="111.3" y="495.9" font-size="34.4" textLength="74.6" lengthAdjust="spacingAndGlyphs">Host</text>
<text class="b" x="270.5" y="525" font-size="18" style="stroke-width:0.3px" textLength="114" lengthAdjust="spacingAndGlyphs">Front Sensor</text>
<text class="b" x="284.5" y="612" font-size="18" style="stroke-width:0.3px" textLength="106.5" lengthAdjust="spacingAndGlyphs">Rear Sensor</text>
<text class="b" x="61.5" y="663" font-size="22" style="stroke-width:0.45px" textLength="389" lengthAdjust="spacingAndGlyphs">Original car protocol transfer cable</text>
<text class="b" x="28" y="895" font-size="25.5" textLength="191" lengthAdjust="spacingAndGlyphs">ABCD：Sensor</text>
<text class="b" x="28" y="921" font-size="25.5" textLength="97" lengthAdjust="spacingAndGlyphs">I：Host</text>
<text class="b" y="947" font-size="25.5"><tspan x="28">J</tspan><tspan x="40.8">：</tspan><tspan x="67.8" textLength="110" lengthAdjust="spacingAndGlyphs">Protocol</tspan></text>
<text class="b" x="28" y="973" font-size="25.5" textLength="218" lengthAdjust="spacingAndGlyphs">Interfacinterface</text>
</g>
</svg>
</body>
</html>
